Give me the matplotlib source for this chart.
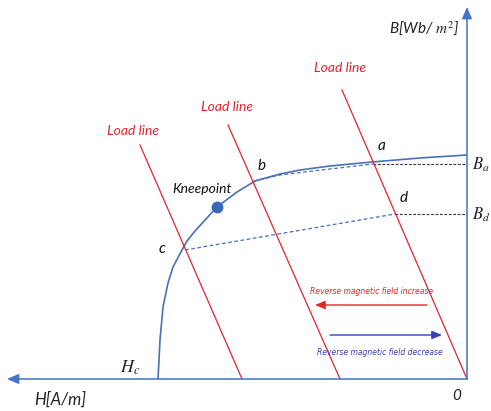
import matplotlib
matplotlib.use("Agg")
import matplotlib.pyplot as plt

plt.rcParams["mathtext.fontset"] = "stix"

# Demagnetisation curve (second quadrant), H in A/m (negative), B in arbitrary units
curve_H = [-309, -308, -307, -304, -299, -294, -285, -280, -272, -261, -250, -230,
           -212, -187, -167, -137, -95, -47, 0]
curve_B = [0, 19, 39, 72, 96, 112, 129, 138, 148, 160, 172, 187,
           198, 205, 209, 213, 217, 221, 224]

# Load lines: (H_top, B_top) -> (H_bottom, 0)
load_H = [[-125, 0], [-239, -127], [-327, -225]]
load_B = [[289, 0], [254, 0], [234, 0]]
load_label_pos = [(-127, 311), (-240, 272), (-334, 248)]

# Operating points
pt_names = ["a", "b", "c", "d"]
pt_H = [-94, -213, -282, -72]
pt_B = [215, 198, 129, 165]

knee_H, knee_B = -250, 172
Hc = -309
Ba, Bd = 215, 165

# Recoil (minor) paths
recoil_ba_H = [-213, -187, -154, -94]
recoil_ba_B = [198, 204, 208, 215]
recoil_cd_H = [-282, -72]
recoil_cd_B = [129, 165]

RED = "#e3242b"
BLUE = "#4a70b8"
AXIS = "#4472c4"
ARROW_BLUE = "#3a3fb5"

fig = plt.figure(figsize=(4.91, 4.11), dpi=100)
ax = fig.add_axes([0, 0, 1, 1])
ax.set_xlim(-467, 24)
ax.set_ylim(-32, 379)
ax.axis("off")

sans = ["Lato", "DejaVu Sans"]
narrow = ["Liberation Sans Narrow", "DejaVu Sans"]

# Axes with arrowheads
ax.annotate("", xy=(-460, 0), xytext=(0, 0),
            arrowprops=dict(arrowstyle="-|>,head_length=0.7,head_width=0.3",
                            color=AXIS, lw=1.1, shrinkA=0, shrinkB=0))
ax.annotate("", xy=(0, 372), xytext=(0, 0),
            arrowprops=dict(arrowstyle="-|>,head_length=0.7,head_width=0.3",
                            color=AXIS, lw=1.1, shrinkA=0, shrinkB=0))

# B-H curve
ax.plot(curve_H, curve_B, color=BLUE, lw=1.2, solid_capstyle="butt",
        solid_joinstyle="round")

# Recoil lines
ax.plot(recoil_ba_H, recoil_ba_B, color=BLUE, lw=0.9, ls=(0, (3, 2)))
ax.plot(recoil_cd_H, recoil_cd_B, color=BLUE, lw=0.9, ls=(0, (3, 2)))

# Flux density levels
ax.plot([pt_H[0], 0], [Ba, Ba], color="#333333", lw=0.8, ls=(0, (2.5, 1.5)))
ax.plot([pt_H[3], 0], [Bd, Bd], color="#333333", lw=0.8, ls=(0, (2.5, 1.5)))

# Load lines
for hs, bs, (lx, ly) in zip(load_H, load_B, load_label_pos):
    ax.plot(hs, bs, color=RED, lw=0.9)
    ax.text(lx, ly, "Load line", color=RED, fontsize=10, style="italic",
            family=sans, ha="center", va="center")

# Knee point
ax.plot([knee_H], [knee_B], "o", color="#3a68b8", ms=7.5)
ax.text(-265, 190, "Kneepoint", fontsize=10, style="italic", family=sans,
        ha="center", va="center", color="#111111")

# Point labels
label_pos = {"a": (-85, 233), "b": (-205, 213), "c": (-305, 130), "d": (-63, 181)}
for n in pt_names:
    x, y = label_pos[n]
    ax.text(x, y, n, fontsize=11, style="italic", family=sans,
            ha="center", va="center", color="#111111")

# Axis labels
ax.text(-8, 351, r"B[Wb/ $m^2$]", fontsize=11, style="italic", family=sans,
        ha="right", va="center", color="#222222")
ax.text(-407, -21, "H[A/m]", fontsize=12, style="italic", family=sans,
        ha="center", va="center", color="#222222")
ax.text(-337, 11, r"$H_c$", fontsize=13, ha="center", va="center", color="#222222")
ax.text(-10, -17, "0", fontsize=11, style="italic", family=sans,
        ha="center", va="center", color="#222222")
ax.text(5, Ba - 1, r"$B_a$", fontsize=12, ha="left", va="center", color="#222222")
ax.text(5, Bd - 1, r"$B_d$", fontsize=12, ha="left", va="center", color="#222222")

# Direction arrows
ax.annotate("", xy=(-152, 74), xytext=(-40, 74),
            arrowprops=dict(arrowstyle="-|>,head_length=0.6,head_width=0.25",
                            color=RED, lw=1.0, shrinkA=0, shrinkB=0))
ax.text(-95, 87, "Reverse magnetic field increase", color=RED, fontsize=5.5,
        style="italic", family=narrow, ha="center", va="center")
ax.annotate("", xy=(-25, 44), xytext=(-137, 44),
            arrowprops=dict(arrowstyle="-|>,head_length=0.6,head_width=0.25",
                            color=ARROW_BLUE, lw=1.0, shrinkA=0, shrinkB=0))
ax.text(-87, 27, "Reverse magnetic field decrease", color=ARROW_BLUE, fontsize=5.5,
        style="italic", family=narrow, ha="center", va="center")

fig.savefig("out.png", dpi=100)
